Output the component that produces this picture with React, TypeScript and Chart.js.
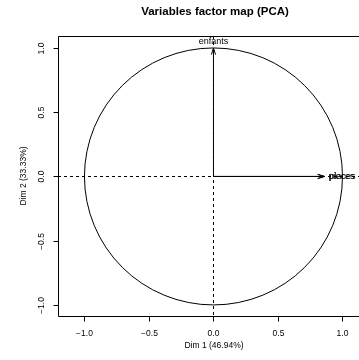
import React, { useEffect, useRef } from "react";
import { Chart, registerables } from "chart.js";

Chart.register(...registerables);

const varNames = ["enfants", "pieces", "places"];
const dim1 = [0.0, 0.86, 0.86];
const dim2 = [1.0, 0.0, 0.0];
const xTicks = [-1.0, -0.5, 0.0, 0.5, 1.0];
const yTicks = [-1.0, -0.5, 0.0, 0.5, 1.0];
const titleText = "Variables factor map (PCA)";
const xTitle = "Dim 1 (46.94%)";
const yTitle = "Dim 2 (33.33%)";

const FONT = "'Liberation Sans', Arial, Helvetica, sans-serif";

function fmt(v: number) {
  const s = Math.abs(v).toFixed(1);
  return v < 0 ? "\u2212" + s : s;
}

const rPlot = {
  id: "rPlot",
  beforeDatasetsDraw(chart: any) {
    const ctx = chart.ctx;
    const xs = chart.scales.x;
    const ys = chart.scales.y;
    const a = chart.chartArea;
    const x0 = xs.getPixelForValue(0);
    const y0 = ys.getPixelForValue(0);
    ctx.save();
    ctx.strokeStyle = "#000";
    ctx.lineWidth = 1;
    const rx = xs.getPixelForValue(1) - x0;
    const ry = y0 - ys.getPixelForValue(1);
    ctx.beginPath();
    ctx.ellipse(x0, y0, rx, ry, 0, 0, Math.PI * 2);
    ctx.stroke();
    ctx.setLineDash([3, 3]);
    ctx.beginPath();
    ctx.moveTo(a.left, Math.round(y0) + 0.5);
    ctx.lineTo(a.right, Math.round(y0) + 0.5);
    ctx.moveTo(Math.round(x0) + 0.5, a.top);
    ctx.lineTo(Math.round(x0) + 0.5, a.bottom);
    ctx.stroke();
    ctx.setLineDash([]);
    ctx.restore();
  },
  afterDatasetsDraw(chart: any) {
    const ctx = chart.ctx;
    const xs = chart.scales.x;
    const ys = chart.scales.y;
    const a = chart.chartArea;
    const x0 = xs.getPixelForValue(0);
    const y0 = ys.getPixelForValue(0);
    ctx.save();
    ctx.strokeStyle = "#000";
    ctx.fillStyle = "#000";
    ctx.lineWidth = 1;
    for (let i = 0; i < varNames.length; i++) {
      const tx = xs.getPixelForValue(dim1[i]);
      const ty = ys.getPixelForValue(dim2[i]);
      const ang = Math.atan2(ty - y0, tx - x0);
      const L = 7;
      const h = 0.3;
      ctx.beginPath();
      ctx.moveTo(tx - L * Math.cos(ang - h), ty - L * Math.sin(ang - h));
      ctx.lineTo(tx, ty);
      ctx.lineTo(tx - L * Math.cos(ang + h), ty - L * Math.sin(ang + h));
      ctx.stroke();
      ctx.font = "9px " + FONT;
      if (Math.abs(dim2[i]) > Math.abs(dim1[i])) {
        ctx.textAlign = "center";
        ctx.textBaseline = "middle";
        ctx.fillText(varNames[i], tx, ty - 6);
      } else {
        ctx.textAlign = "left";
        ctx.textBaseline = "middle";
        ctx.fillText(varNames[i], tx + 4 + (i === 2 ? 1 : 0), ty);
      }
    }
    const L0 = Math.round(a.left) + 0.5;
    const T0 = Math.round(a.top) + 0.5;
    const B0 = Math.round(a.bottom) + 0.5;
    ctx.beginPath();
    ctx.moveTo(a.right + 2, T0);
    ctx.lineTo(L0, T0);
    ctx.lineTo(L0, B0);
    ctx.lineTo(a.right + 2, B0);
    ctx.stroke();
    ctx.font = "8.5px " + FONT;
    ctx.textAlign = "center";
    ctx.textBaseline = "middle";
    for (const v of xTicks) {
      const px = Math.round(xs.getPixelForValue(v)) + 0.5;
      ctx.beginPath();
      ctx.moveTo(px, B0);
      ctx.lineTo(px, B0 + 5);
      ctx.stroke();
      ctx.fillText(fmt(v), px, B0 + 17);
    }
    for (const v of yTicks) {
      const py = Math.round(ys.getPixelForValue(v)) + 0.5;
      ctx.beginPath();
      ctx.moveTo(L0, py);
      ctx.lineTo(L0 - 5, py);
      ctx.stroke();
      ctx.save();
      ctx.translate(L0 - 17, py);
      ctx.rotate(-Math.PI / 2);
      ctx.fillText(fmt(v), 0, 0);
      ctx.restore();
    }
    ctx.font = "8.5px " + FONT;
    ctx.fillText(xTitle, 214, B0 + 29);
    ctx.save();
    ctx.translate(L0 - 35, (a.top + a.bottom) / 2);
    ctx.rotate(-Math.PI / 2);
    ctx.fillText(yTitle, 0, 0);
    ctx.restore();
    ctx.font = "bold 11.5px " + FONT;
    ctx.fillText(titleText, 215, 12);
    ctx.restore();
  },
};

export default function App() {
  const ref = useRef<HTMLCanvasElement | null>(null);
  useEffect(() => {
    if (!ref.current) return;
    const datasets = varNames.map((n, i) => ({
      label: n,
      data: [
        { x: 0, y: 0 },
        { x: dim1[i], y: dim2[i] },
      ],
      borderColor: "#000",
      borderWidth: 1,
      pointRadius: 0,
      showLine: true,
      fill: false,
    }));
    const chart = new Chart(ref.current, {
      type: "scatter",
      data: { datasets },
      options: {
        animation: false,
        responsive: false,
        devicePixelRatio: 1,
        layout: { padding: { left: 58, top: 36, right: 0, bottom: 44 } },
        plugins: { legend: { display: false }, tooltip: { enabled: false }, title: { display: false } },
        scales: {
          x: { type: "linear", min: -1.205, max: 1.128, display: false },
          y: { type: "linear", min: -1.086, max: 1.093, display: false },
        },
      },
      plugins: [rPlot],
    });
    return () => chart.destroy();
  }, []);
  return (
    <div style={{ position: "absolute", left: 0, top: 0, width: 359, height: 360, overflow: "hidden", background: "#fff" }}>
      <canvas ref={ref} width={359} height={360} style={{ display: "block" }} />
    </div>
  );
}
